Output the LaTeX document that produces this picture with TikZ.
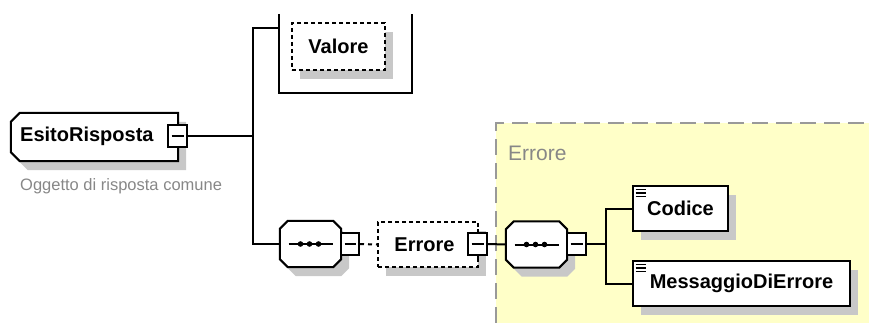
\documentclass[tikz,border=0pt]{standalone}
\usepackage{fontspec}
\setmainfont{Liberation Sans}
\usepackage{tikz}
\usetikzlibrary{shadows, calc, positioning}

\definecolor{groupyellow}{RGB}{255,255,200}
\definecolor{notegray}{RGB}{135,135,135}
\definecolor{shadowgray}{RGB}{200,200,200}

\pgfdeclarelayer{bg}
\pgfdeclarelayer{boxes}
\pgfsetlayers{bg,boxes,main}

% outline with cut corners: node, left cut, right cut
\newcommand{\cutbox}[3]{%
  \begin{pgfonlayer}{boxes}
    \fill[shadowgray, transform canvas={shift={(8pt,-9pt)}}]
        ([xshift=#2]#1.north west) -- ([xshift=-#3]#1.north east)
        -- ([yshift=-#3]#1.north east) -- ([yshift=#3]#1.south east)
        -- ([xshift=-#3]#1.south east) -- ([xshift=#2]#1.south west)
        -- ([yshift=#2]#1.south west) -- ([yshift=-#2]#1.north west) -- cycle;
    \filldraw[fill=white, draw=black, line width=2pt]
        ([xshift=#2]#1.north west) -- ([xshift=-#3]#1.north east)
        -- ([yshift=-#3]#1.north east) -- ([yshift=#3]#1.south east)
        -- ([xshift=-#3]#1.south east) -- ([xshift=#2]#1.south west)
        -- ([yshift=#2]#1.south west) -- ([yshift=-#2]#1.north west) -- cycle;
  \end{pgfonlayer}}

\tikzset{
    link/.style={draw, line width=2pt},
    elem/.style={draw, fill=white, line width=2pt, inner sep=0pt,
        font=\fontsize{20}{22}\selectfont\bfseries,
        drop shadow={fill=shadowgray, opacity=1, shadow xshift=8pt, shadow yshift=-9pt}},
    optelem/.style={elem, dash pattern=on 4pt off 3pt},
    cutshape/.style={rectangle, inner sep=0pt},
    minusbox/.style={draw, fill=white, line width=2pt, minimum width=19pt, minimum height=22pt,
        inner sep=0pt,
        path picture={\draw[line width=1.6pt] ([xshift=3.5pt]path picture bounding box.west)
            -- ([xshift=-3.5pt]path picture bounding box.east);}},
    leafbox/.style={elem, minimum height=45pt,
        path picture={
            \foreach \dy in {3.5,7,10.5}
                \draw[line width=1.4pt] ([xshift=2.5pt,yshift=-\dy pt]path picture bounding box.north west)
                    -- ++(10pt,0);}},
    note/.style={text=notegray, inner sep=0pt}
}

% sequence glyph inside a compositor box
\newcommand{\seqglyph}[1]{%
  \draw[link] ([xshift=-22pt]#1.center) -- ([xshift=22pt]#1.center);
  \foreach \dx in {-10,-1,8}
    \fill ([xshift=\dx pt]#1.center) circle (2.8pt);}

\begin{document}
\begin{tikzpicture}[x=1pt, y=-1pt]
\useasboundingbox (0,0) rectangle (869,323);

% group area of Errore
\begin{pgfonlayer}{bg}
\fill[groupyellow] (496,123) rectangle (869,323);
\draw[gray!80, line width=2pt, dash pattern=on 16pt off 8pt] (496,323) -- (496,123) -- (869,123);
\end{pgfonlayer}
\node[note, font=\fontsize{21}{24}\selectfont, anchor=west] (grplabel) at (508,153) {Errore};

% root element
\node[cutshape, minimum width=167pt, minimum height=48pt] (root) at (94.5,137) {};
\cutbox{root}{9pt}{0pt}
\node[anchor=west, font=\fontsize{20}{22}\selectfont\bfseries, inner sep=0pt] (rootlbl) at (20,136) {EsitoRisposta};
\node[minusbox] (rootm) at (177.5,136) {};
\node[note, font=\fontsize{16.5}{18}\selectfont, anchor=west] (rootnote) at (20,186) {Oggetto di risposta comune};

% choice frame with Valore
\draw[link] (279,14) -- (279,93) -- (412,93) -- (412,14);
\node[optelem, minimum width=93pt, minimum height=47pt] (valore) at (338.5,46.5) {Valore};
\coordinate (frameL) at (279,28);

% sequence and Errore
\node[cutshape, minimum width=61pt, minimum height=46pt] (seq1) at (310.5,244) {};
\cutbox{seq1}{8pt}{8pt}
\seqglyph{seq1}
\node[minusbox, minimum width=18pt] (seq1m) at (350,244) {};
\node[optelem, minimum width=100pt, minimum height=45pt] (errore) at (428,244.5) {\hspace*{-7pt}Errore};
\draw[link] (478,229) -- (478,262);
\node[minusbox] (errm) at (477.5,244) {};

% sequence inside Errore
\node[cutshape, minimum width=61pt, minimum height=46pt] (seq2) at (536.5,244.5) {};
\cutbox{seq2}{8pt}{8pt}
\seqglyph{seq2}
\node[minusbox] (seq2m) at (576.5,244) {};
\node[leafbox, minimum width=95pt] (codice) at (680.5,208.5) {Codice};
\node[leafbox, minimum width=217pt] (messaggio) at (741.5,283.5) {MessaggioDiErrore};

% connectors
\coordinate (fork) at (253,136);
\coordinate (fork2) at (606,244);
\draw[link] (rootm.east) -- (fork);
\draw[link] (seq1.west) -| (fork) |- (frameL);
\draw[link, dash pattern=on 4pt off 4pt] (seq1m.east) -- (errore.west);
\draw[link] (errm.east) -- (seq2.west);
\draw[link] (seq2m.east) -- (fork2);
\draw[link] (codice.west) -| (fork2) |- (messaggio.west);
\end{tikzpicture}
\end{document}
